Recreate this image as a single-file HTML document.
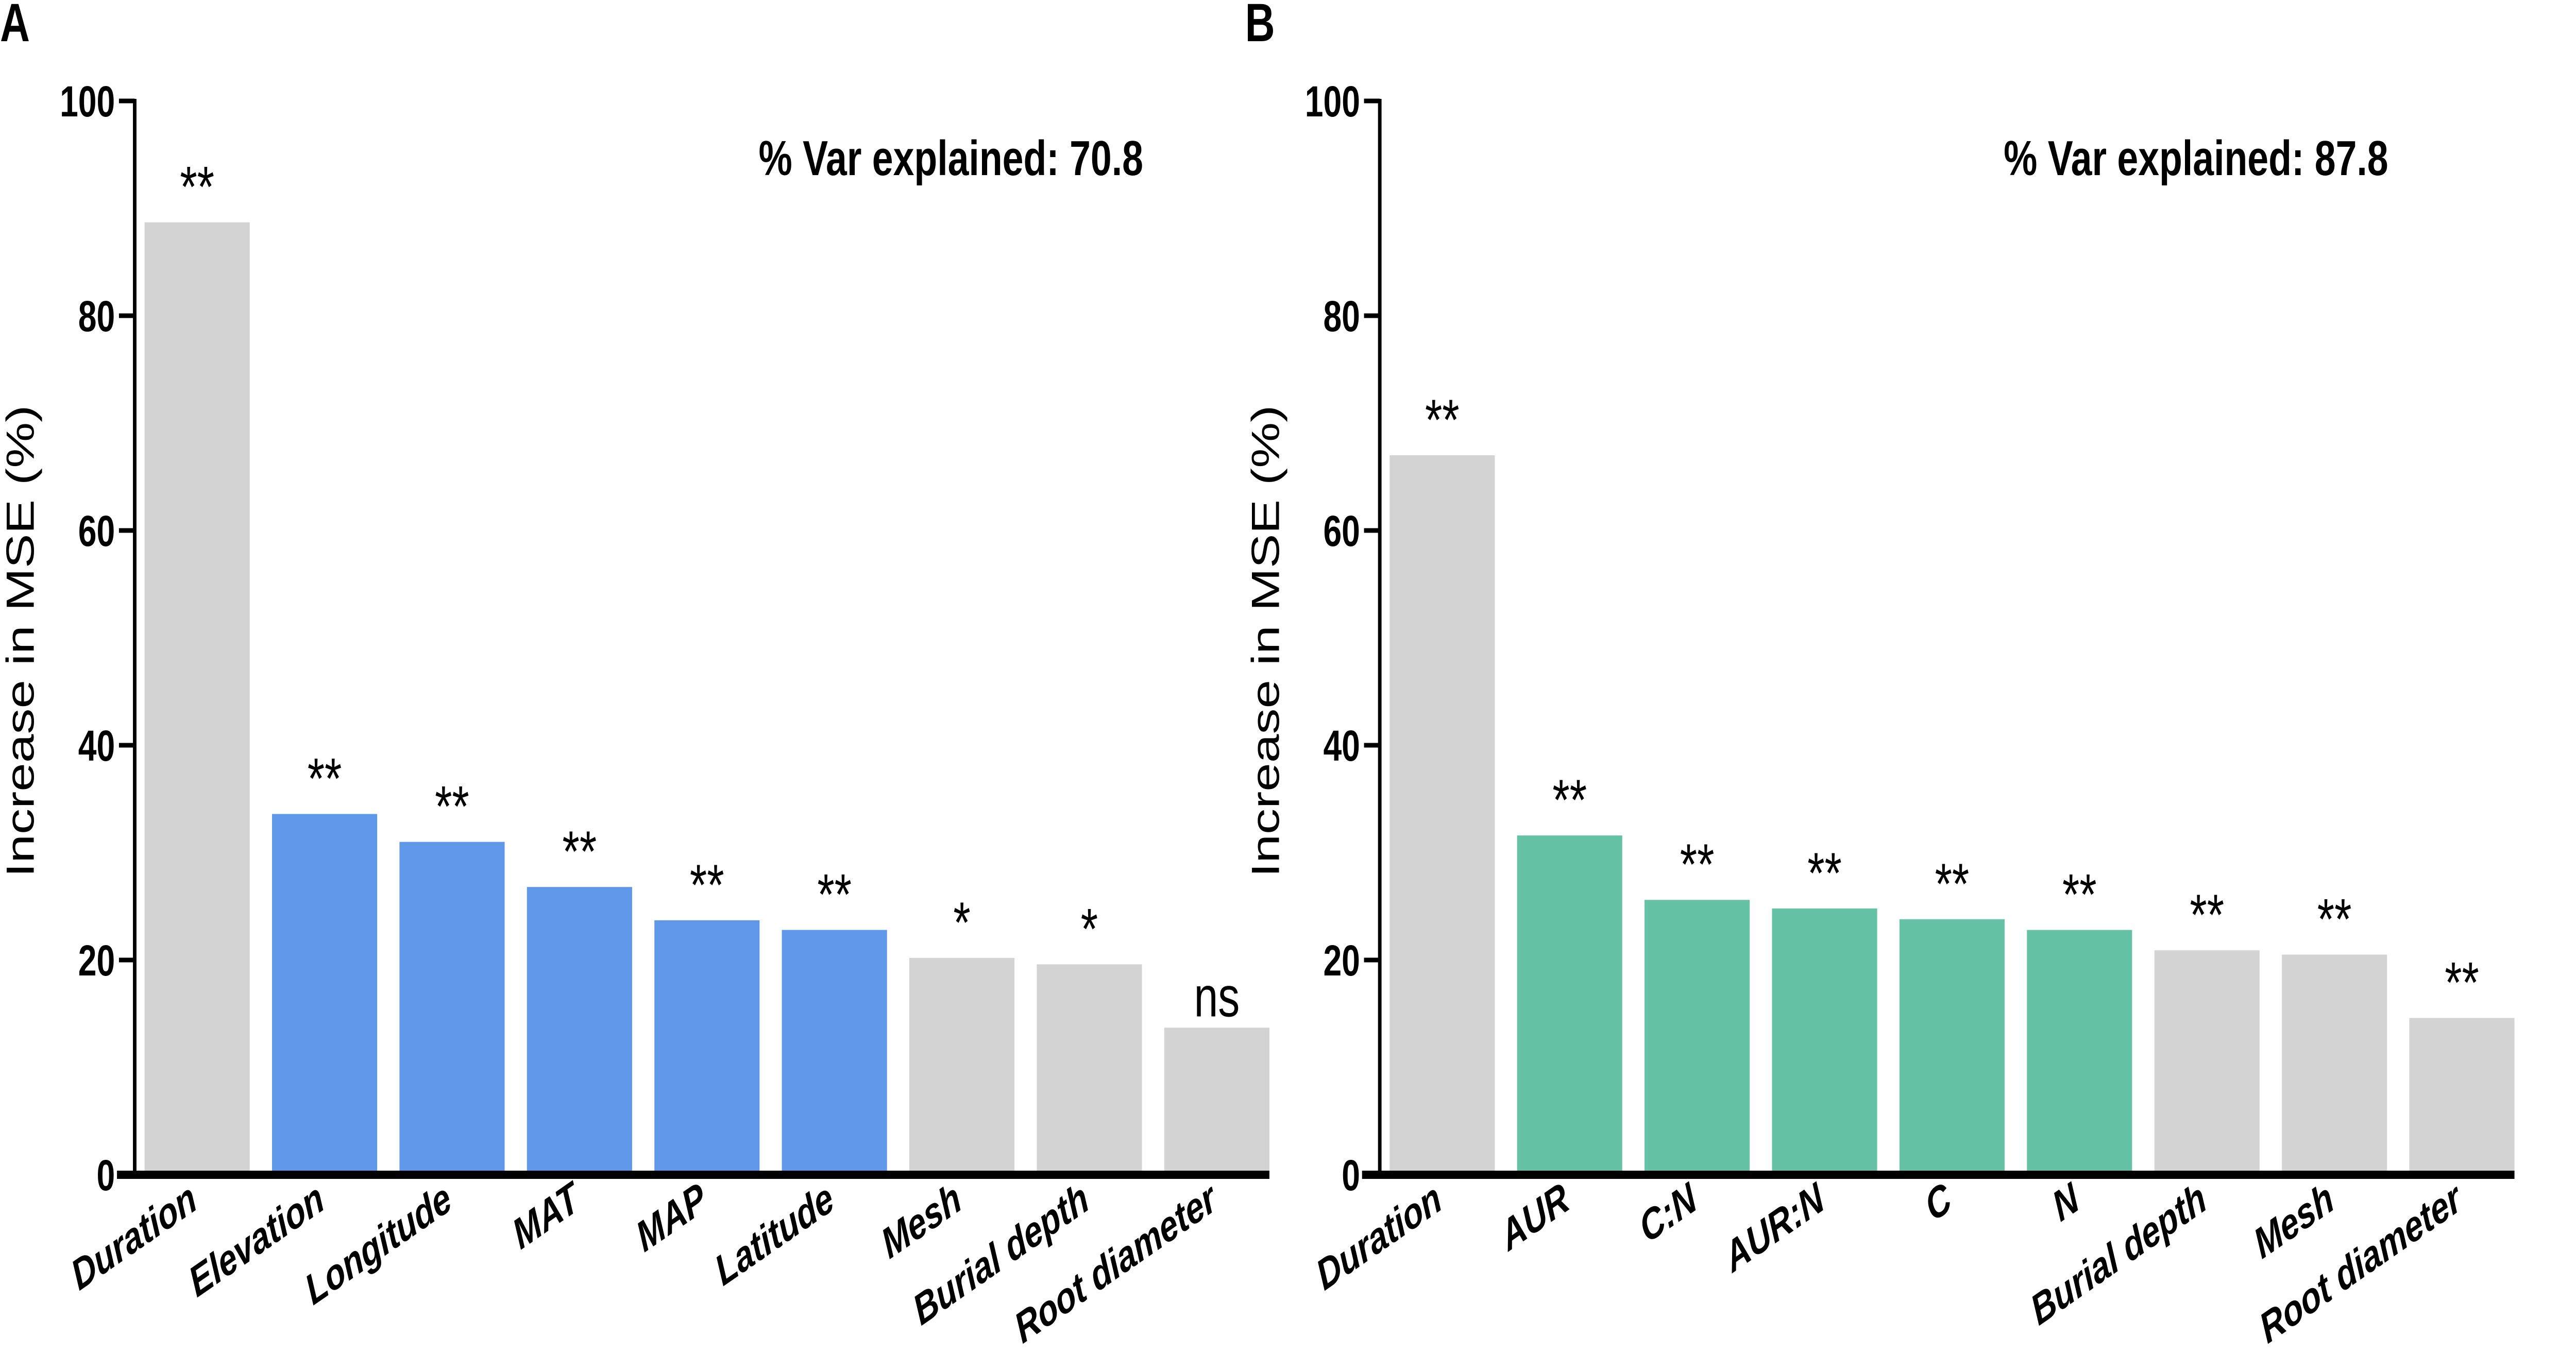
<!DOCTYPE html>
<html><head><meta charset="utf-8"><style>
html,body{margin:0;padding:0;background:#fff;overflow:hidden;width:100vw;height:100vh;}
svg{display:block;width:100vw;height:100vh;}
text{font-family:"Liberation Sans",Arial,sans-serif;}
.tick{font-family:"Liberation Sans Narrow","Liberation Sans",sans-serif;font-weight:bold;font-size:84px;}
.xl{font-family:"Liberation Sans",sans-serif;font-weight:bold;font-style:italic;font-size:84px;}
</style></head><body>
<svg id="chart" viewBox="0 0 6540 2662" preserveAspectRatio="none" xmlns="http://www.w3.org/2000/svg"></svg>
<script>
const catsA = ["Duration","Elevation","Longitude","MAT","MAP","Latitude","Mesh","Burial depth","Root diameter"];
const valsA = [88.7,33.6,31.0,26.8,23.7,22.8,20.2,19.6,13.7];
const sigA = ["**","**","**","**","**","**","*","*","ns"];
const colA = ["g","a","a","a","a","a","g","g","g"];
const catsB = ["Duration","AUR","C:N","AUR:N","C","N","Burial depth","Mesh","Root diameter"];
const valsB = [67.0,31.6,25.6,24.8,23.8,22.8,20.9,20.5,14.6];
const sigB = ["**","**","**","**","**","**","**","**","**"];
const colB = ["g","a","a","a","a","a","g","g","g"];
const yTicks = [0,20,40,60,80,100];
const varA = "% Var explained: 70.8";
const varB = "% Var explained: 87.8";

const NS="http://www.w3.org/2000/svg";
const svg=document.getElementById('chart');
function mk(tag,attrs,parent){const e=document.createElementNS(NS,tag);for(const k in attrs)e.setAttribute(k,attrs[k]);(parent||svg).appendChild(e);return e;}

function panel(off,letter,cats,vals,sig,cols,accent,varTxt,pname){
  const g=mk('g',{});
  
  
  const ax=342+off, y0=2281, y100=196;
  const y=v=>y0-(v/100)*(y0-y100);
  const step=323.6, first=367+off, bw=267;
  const xb=i=>first+i*step;
  const L=mk('text',{x:off,y:80,'font-size':105,'font-weight':'bold'},g);L.textContent=letter;
  
  
  cats.forEach((c,i)=>{
    const r=mk('rect',{x:xb(i),y:y(vals[i]),width:bw,height:y0-y(vals[i]),fill:cols[i]==='a'?accent:'#d3d3d3'},g);
    
    
    const isNs=sig[i]==='ns';
    const s=mk('text',{x:xb(i)+bw/2,y:y(vals[i])-(isNs?22:30),'text-anchor':'middle','font-size':isNs?110:112},g);
    s.textContent=sig[i];
    
    
    const cx=xb(i)+bw/2+5, cy=2345;
    const t=mk('text',{x:cx,y:cy,'text-anchor':'end',class:'xl',transform:`rotate(-28 ${cx} ${cy})`},g);
    t.textContent=c;
    
    
  });
  const ya=mk('line',{x1:ax,y1:y100-4,x2:ax,y2:y0+4,stroke:'#000','stroke-width':9},g);
  
  
  const xa=mk('line',{x1:ax-45,y1:y0,x2:xb(cats.length-1)+bw,y2:y0,stroke:'#000','stroke-width':16},g);
  
  
  yTicks.forEach(v=>{
    if(v>0){const tl=mk('line',{x1:ax-40,y1:y(v),x2:ax,y2:y(v),stroke:'#000','stroke-width':9},g);
    
    }
    const tt=mk('text',{x:ax-50,y:y(v)+30,'text-anchor':'end',class:'tick'},g);
    tt.textContent=v;
    
    
  });
  const yt=mk('text',{x:0,y:0,'font-size':100,'text-anchor':'middle',transform:`translate(${off+86} 1245) rotate(-90)`},g);
  yt.textContent='Increase in MSE (%)';
  
  
  const vt=mk('text',{x:off+1926,y:340,'font-size':96,'font-weight':'bold'},g);
  vt.textContent=varTxt;
  
  
}
panel(0,'A',catsA,valsA,sigA,colA,'#6098e9',varA,'panel-a');
panel(3161,'B',catsB,valsB,sigB,colB,'#66c2a7',varB,'panel-b');
</script>
</body></html>
